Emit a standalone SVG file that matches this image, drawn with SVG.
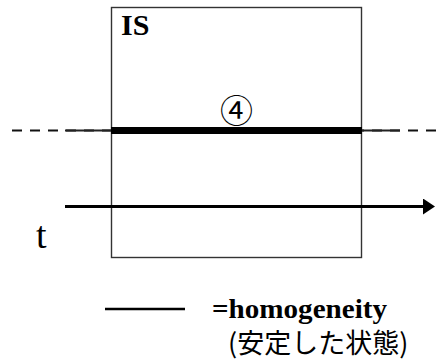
<svg xmlns="http://www.w3.org/2000/svg" width="440" height="360" viewBox="0 0 440 360">
<style>
.box{fill:none;stroke:#333;stroke-width:1.4}
.serif{font-family:'Liberation Serif','DejaVu Serif',serif;fill:#000}
.bold{font-weight:bold}
.jp{font-family:'Noto Sans CJK JP',sans-serif;fill:#000}
</style>
<defs>
<marker id="ah" viewBox="0 0 12 16" refX="0" refY="8" markerWidth="12" markerHeight="16" markerUnits="userSpaceOnUse" orient="auto">
<path d="M0,0 L12,8 L0,16 Z" fill="#000"/>
</marker>
</defs>
<rect width="440" height="360" fill="#fff"/>
<g id="IS">
<rect class="box" x="111.5" y="7.5" width="250" height="250"/>
<text class="serif bold" x="121" y="35" font-size="30">IS</text>
</g>
<g id="connectors">
<line x1="12" y1="130.5" x2="440" y2="130.5" stroke="#111" stroke-width="2" stroke-dasharray="10 8"/>
<line x1="65" y1="130.5" x2="400" y2="130.5" stroke="#222" stroke-width="2"/>
<line x1="111" y1="130.5" x2="362" y2="130.5" stroke="#000" stroke-width="7"/>
<line x1="65" y1="206.5" x2="423" y2="206.5" stroke="#000" stroke-width="3" marker-end="url(#ah)"/>
</g>
<g id="label4">
<text class="jp" x="236.5" y="123" font-size="33" text-anchor="middle">④</text>
</g>
<g id="t">
<text class="serif" x="36" y="248" font-size="38">t</text>
</g>
<g id="legend">
<line x1="105" y1="309" x2="185" y2="309" stroke="#000" stroke-width="2.5"/>
<text class="serif bold" x="212" y="318" font-size="27" textLength="175" lengthAdjust="spacingAndGlyphs">=homogeneity</text>
<text class="jp" x="228" y="353" font-size="27">(安定した状態)</text>
</g>
</svg>
